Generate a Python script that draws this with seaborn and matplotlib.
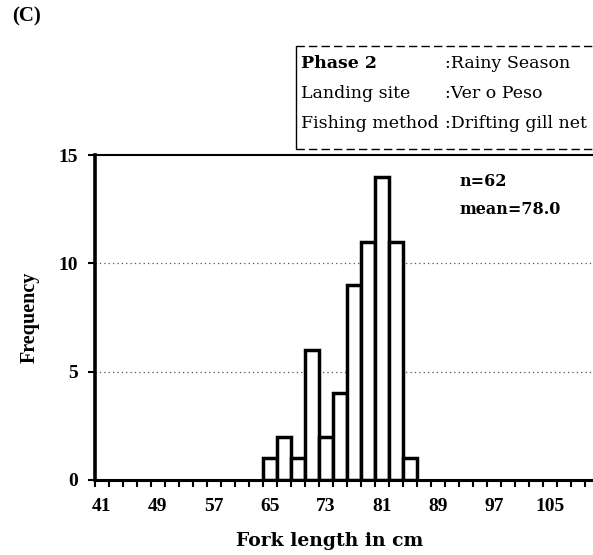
import matplotlib
matplotlib.use("Agg")
import matplotlib.pyplot as plt
from matplotlib.lines import Line2D
from matplotlib.ticker import MultipleLocator
import seaborn as sns
import numpy as np

# ---- data ----
bin_centers = [65, 67, 69, 71, 73, 75, 77, 79, 81, 83, 85]
frequencies = [1, 2, 1, 6, 2, 4, 9, 11, 14, 11, 1]
bin_edges = [64, 66, 68, 70, 72, 74, 76, 78, 80, 82, 84, 86]
x_tick_labels = [41, 49, 57, 65, 73, 81, 89, 97, 105]
y_ticks = [0, 5, 10, 15]
info_keys = ["Phase 2", "Landing site", "Fishing method"]
info_vals = [":Rainy Season", ":Ver o Peso", ":Drifting gill net"]
n_text = "n=62"
mean_text = "mean=78.0"

sns.set_style("white")
plt.rcParams['font.family'] = ['Liberation Serif', 'DejaVu Serif']
plt.rcParams['text.color'] = 'black'
plt.rcParams['xtick.color'] = 'black'
plt.rcParams['ytick.color'] = 'black'
plt.rcParams['axes.labelcolor'] = 'black'
WIDE = ['DejaVu Serif', 'Liberation Serif']

W, H = 593, 555
fig = plt.figure(figsize=(W / 100, H / 100), dpi=100)

def fx(px):
    return px / W

def fy(py):
    return 1 - py / H

ax_left, ax_right, ax_top, ax_bot = 95, 592, 155, 480
ax = fig.add_axes([fx(ax_left), fy(ax_bot), (ax_right - ax_left) / W, (ax_bot - ax_top) / H])

sns.histplot(x=bin_centers, weights=frequencies, bins=bin_edges, ax=ax,
             color="white", edgecolor="black", linewidth=2.5, alpha=1.0)

ax.set_xlim(40, 40 + (ax_right - ax_left) / 7.0)
ax.set_ylim(0, 15)
ax.set_axisbelow(True)
for yv in [5, 10]:
    ax.axhline(yv, color="#555555", linestyle=(0, (1, 2.5)), linewidth=0.9, zorder=0)

ax.set_xticks(x_tick_labels)
ax.set_xticklabels([str(v) for v in x_tick_labels], fontsize=14, fontweight="bold")
ax.xaxis.set_minor_locator(MultipleLocator(2))
ax.tick_params(axis="x", which="major", length=0, pad=13, labelcolor="black")
ax.tick_params(axis="x", which="minor", length=5, width=1.5, direction="out", color="black", bottom=True)

ax.set_yticks(y_ticks)
ax.set_yticklabels([str(v) for v in y_ticks], fontsize=14, fontweight="bold")
ax.tick_params(axis="y", which="major", length=5, width=1.5, direction="out", pad=7,
               color="black", labelcolor="black", left=True)

ax.set_xlabel("")
ax.set_ylabel("")
for s in ["left", "bottom", "top"]:
    ax.spines[s].set_visible(True)
    ax.spines[s].set_color("black")
ax.spines["left"].set_linewidth(2.6)
ax.spines["bottom"].set_linewidth(2.2)
ax.spines["top"].set_linewidth(1.5)
ax.spines["right"].set_visible(False)

# labels
fig.text(fx(30), fy(317), "Frequency", rotation=90, ha="center", va="center",
         fontsize=14.5, fontweight="bold", color="black")
fig.text(fx(330), fy(541), "Fork length in cm", ha="center", va="center",
         fontsize=13.5, fontweight="bold", family=WIDE, color="black")
fig.text(fx(12), fy(16), "(C)", ha="left", va="center", fontsize=15, fontweight="bold", color="black")

# n / mean
fig.text(fx(459), fy(182), n_text, ha="left", va="center", fontsize=11.5,
         fontweight="bold", family=WIDE, color="black")
fig.text(fx(459), fy(210), mean_text, ha="left", va="center", fontsize=11.5,
         fontweight="bold", family=WIDE, color="black")

# info box
bl, bt, bb = 296, 46, 149
fig.add_artist(Line2D([fx(bl), 1.0], [fy(bt), fy(bt)], color="black", lw=1.0, linestyle=(0, (6, 3))))
fig.add_artist(Line2D([fx(bl), 1.0], [fy(bb), fy(bb)], color="black", lw=1.0, linestyle=(0, (6, 3))))
fig.add_artist(Line2D([fx(bl), fx(bl)], [fy(bt), fy(bb)], color="black", lw=1.0))
row_y = [64, 94, 124]
for k, v, ry in zip(info_keys, info_vals, row_y):
    fig.text(fx(301), fy(ry), k, ha="left", va="center", fontsize=12.5, family=WIDE,
             fontweight="bold" if k == "Phase 2" else "normal", color="black")
    fig.text(fx(445), fy(ry), v, ha="left", va="center", fontsize=12.5, family=WIDE, color="black")

fig.savefig("out.png", dpi=100)
